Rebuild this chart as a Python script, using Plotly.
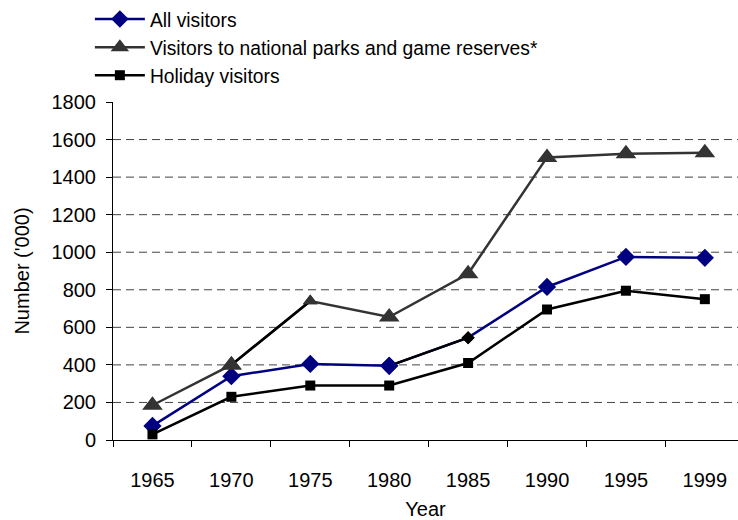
import plotly.graph_objects as go

years = ["1965", "1970", "1975", "1980", "1985", "1990", "1995", "1999"]
all_visitors = [75, 340, 405, 395, 545, 815, 975, 970]
park_visitors = [185, 400, 740, 655, 885, 1505, 1525, 1530]
holiday_visitors = [30, 230, 290, 290, 410, 695, 795, 750]
y_ticks = [0, 200, 400, 600, 800, 1000, 1200, 1400, 1600, 1800]
grid_values = [200, 400, 600, 800, 1000, 1200, 1400, 1600]

FONT = "Liberation Sans, Arial, sans-serif"
NAVY = "#000080"
GREY = "#333333"
LW = 2.5

all_sizes = [14, 14, 14, 14, 10, 14, 14, 14]
all_colors = [NAVY, NAVY, NAVY, NAVY, "#000000", NAVY, NAVY, NAVY]
park_sizes = [18, 18, 13, 18, 18, 18, 18, 18]

fig = go.Figure()
fig.add_trace(go.Scatter(
    x=years, y=all_visitors, name="All visitors", mode="lines+markers",
    line=dict(color=NAVY, width=LW),
    marker=dict(symbol="diamond", size=all_sizes, color=all_colors, opacity=1,
                line=dict(width=0)),
))
fig.add_trace(go.Scatter(
    x=years, y=park_visitors, name="Visitors to national parks and game reserves*",
    mode="lines+markers",
    line=dict(color=GREY, width=LW),
    marker=dict(symbol="triangle-up", size=park_sizes, color=GREY, opacity=1,
                line=dict(width=0)),
))
fig.add_trace(go.Scatter(
    x=years, y=holiday_visitors, name="Holiday visitors", mode="lines+markers",
    line=dict(color="#000000", width=LW),
    marker=dict(symbol="square", size=10, color="#000000", opacity=1),
))

# black-rendered segments seen in the original chart
fig.add_trace(go.Scatter(
    x=years[1:3], y=park_visitors[1:3], mode="lines", showlegend=False,
    line=dict(color="#000000", width=LW), hoverinfo="skip",
))
fig.add_trace(go.Scatter(
    x=years[3:5], y=all_visitors[3:5], mode="lines", showlegend=False,
    line=dict(color="#000000", width=LW), hoverinfo="skip",
))
# markers redrawn on top of those segments
fig.add_trace(go.Scatter(
    x=years[1:3], y=park_visitors[1:3], mode="markers", showlegend=False,
    marker=dict(symbol="triangle-up", size=park_sizes[1:3], color=GREY, opacity=1,
                line=dict(width=0)),
    hoverinfo="skip",
))
fig.add_trace(go.Scatter(
    x=years[3:5], y=all_visitors[3:5], mode="markers", showlegend=False,
    marker=dict(symbol="diamond", size=all_sizes[3:5], color=all_colors[3:5], opacity=1,
                line=dict(width=0)),
    hoverinfo="skip",
))

for g in grid_values:
    fig.add_shape(type="line", xref="paper", x0=0, x1=1, yref="y", y0=g, y1=g,
                  line=dict(color="#444444", width=1, dash="8px,5px"), layer="below")

fig.update_layout(
    width=738, height=520,
    margin=dict(l=113, r=0, t=102, b=80, autoexpand=False),
    paper_bgcolor="white", plot_bgcolor="white",
    font=dict(family=FONT, size=20, color="black"),
    showlegend=True,
    legend=dict(
        x=-0.037, xref="paper", y=1.3018, yref="paper",
        xanchor="left", yanchor="top",
        font=dict(family=FONT, size=19.3, color="black"),
        bgcolor="rgba(0,0,0,0)", borderwidth=0,
        itemwidth=50, tracegroupgap=0,
    ),
    xaxis=dict(
        type="category", categoryorder="array", categoryarray=years,
        range=[-0.5, 7.42],
        showgrid=False, showline=True, linecolor="black", linewidth=1,
        ticks="outside", ticklen=6, tickcolor="black", tickson="boundaries",
        ticklabelstandoff=22, tickangle=0,
        tickfont=dict(family=FONT, size=20, color="black"),
        title=dict(text="Year", font=dict(family=FONT, size=20, color="black"), standoff=12),
        zeroline=False, fixedrange=True,
    ),
    yaxis=dict(
        range=[0, 1800], tickvals=y_ticks,
        showgrid=False, showline=True, linecolor="black", linewidth=1,
        ticks="outside", ticklen=6, tickcolor="black",
        ticklabelstandoff=6,
        tickfont=dict(family=FONT, size=20, color="black"),
        title=dict(text="Number ('000)", font=dict(family=FONT, size=20, color="black"), standoff=16),
        zeroline=False, fixedrange=True,
    ),
)

fig.write_html("out.html")
